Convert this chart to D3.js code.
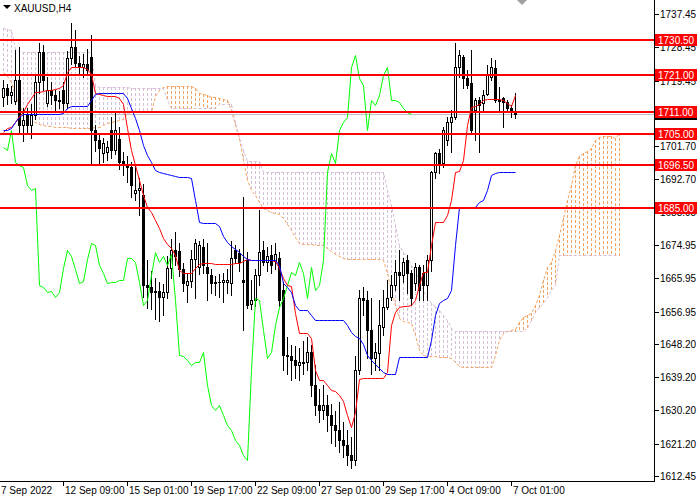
<!DOCTYPE html>
<html><head><meta charset="utf-8">
<script src="https://cdn.jsdelivr.net/npm/d3@7/dist/d3.min.js"></script>
<style>body{margin:0;background:#fff}svg{display:block}text{font-family:"Liberation Sans",Arial,sans-serif}</style>
</head><body><svg id="c" width="700" height="500"></svg>
<script>
const symbol = "XAUUSD,H4";
const open = [1715.0,1717.4,1715.5,1714.0,1719.6,1707.4,1710.5,1707.4,1710.1,1719.0,1727.2,1713.4,1716.9,1715.5,1714.2,1716.9,1713.4,1725.5,1728.5,1724.2,1723.0,1724.0,1725.8,1706.1,1703.4,1699.8,1700.0,1706.0,1700.7,1703.7,1697.8,1696.6,1696.0,1689.0,1689.8,1688.5,1664.1,1663.6,1662.2,1662.5,1660.9,1662.2,1668.7,1673.6,1673.3,1668.5,1664.1,1665.2,1671.2,1669.0,1674.4,1669.0,1666.8,1664.7,1665.0,1664.9,1665.0,1664.7,1673.6,1672.8,1665.5,1670.9,1659.0,1660.0,1666.8,1673.6,1670.4,1672.3,1670.5,1671.4,1662.8,1645.2,1644.9,1643.8,1642.5,1643.3,1643.3,1646.0,1637.1,1631.7,1630.3,1631.7,1629.0,1626.3,1624.9,1622.2,1620.8,1618.1,1616.8,1641.1,1660.6,1660.1,1651.9,1644.4,1645.7,1652.8,1658.2,1660.9,1664.1,1667.6,1666.8,1670.9,1667.3,1664.7,1669.0,1667.3,1664.1,1670.9,1694.7,1699.8,1697.1,1703.4,1708.2,1709.6,1723.1,1725.8,1720.1,1718.7,1711.5,1714.2,1713.3,1715.9,1720.4,1722.8,1714.2,1714.7,1713.6,1712.0,1710.9];
const high = [1719.5,1718.5,1718.0,1727.7,1728.5,1712.0,1712.0,1713.0,1721.0,1729.5,1729.0,1720.5,1719.0,1717.0,1716.5,1719.0,1727.5,1735.0,1733.0,1726.0,1726.5,1728.0,1731.8,1707.4,1705.0,1704.0,1703.0,1709.5,1711.0,1707.0,1700.0,1699.0,1697.5,1697.0,1693.0,1691.5,1671.0,1668.0,1666.0,1665.0,1664.5,1672.0,1676.5,1678.5,1675.5,1670.0,1667.5,1673.5,1676.5,1676.0,1676.5,1675.5,1668.5,1666.5,1667.0,1667.5,1668.5,1676.0,1675.0,1674.0,1687.9,1673.0,1665.5,1668.5,1684.5,1676.0,1674.5,1675.0,1675.5,1673.0,1665.0,1650.0,1648.0,1647.5,1647.0,1649.0,1650.0,1648.0,1642.5,1636.0,1637.0,1634.5,1632.0,1630.0,1632.5,1627.0,1625.0,1623.0,1645.0,1662.8,1663.5,1662.5,1660.5,1648.5,1660.0,1662.8,1665.5,1666.8,1670.9,1673.6,1671.4,1672.2,1668.2,1670.1,1669.5,1669.5,1672.2,1695.0,1700.0,1701.0,1707.0,1709.5,1711.5,1729.6,1727.7,1726.4,1722.3,1727.7,1714.7,1715.0,1716.9,1723.6,1725.5,1725.0,1717.7,1715.0,1714.2,1712.8,1716.0];
const low = [1712.5,1713.0,1713.5,1713.0,1705.2,1703.0,1705.5,1704.0,1709.0,1716.0,1717.0,1712.5,1713.0,1711.0,1712.0,1711.5,1712.0,1724.0,1723.5,1721.0,1720.5,1721.0,1697.0,1700.5,1697.0,1697.5,1698.0,1698.5,1699.5,1695.5,1694.0,1692.0,1688.0,1687.0,1683.0,1661.0,1658.0,1657.5,1655.0,1654.5,1656.0,1660.5,1666.0,1669.5,1666.5,1662.5,1659.5,1663.5,1660.5,1667.0,1667.5,1660.0,1662.0,1661.5,1661.0,1659.5,1662.0,1661.5,1670.0,1668.0,1651.9,1658.0,1657.5,1658.5,1664.0,1669.5,1668.0,1667.5,1668.5,1658.5,1641.0,1640.0,1638.5,1639.0,1638.5,1640.0,1641.0,1634.0,1629.0,1627.0,1628.0,1624.5,1621.5,1620.5,1619.0,1617.5,1615.5,1614.5,1615.5,1640.0,1656.0,1644.5,1640.0,1641.0,1641.0,1650.5,1657.5,1660.0,1662.8,1660.1,1665.0,1661.9,1658.7,1662.8,1660.1,1660.1,1660.1,1668.0,1693.0,1694.5,1696.0,1702.0,1700.0,1709.0,1720.4,1717.5,1717.4,1705.5,1703.3,1700.1,1711.0,1715.5,1719.6,1713.6,1711.5,1706.9,1710.9,1709.6,1709.3];
const close = [1717.4,1715.5,1716.3,1719.6,1707.4,1708.8,1707.4,1710.1,1719.0,1727.2,1719.6,1716.9,1715.5,1714.2,1713.8,1713.4,1725.5,1728.5,1724.2,1723.0,1724.0,1722.3,1706.1,1703.4,1701.2,1702.5,1701.5,1700.7,1706.0,1697.4,1696.6,1696.1,1691.2,1689.8,1690.5,1664.1,1663.6,1662.2,1662.5,1660.9,1662.2,1668.7,1673.6,1672.0,1668.5,1664.7,1665.2,1671.2,1675.5,1675.0,1669.6,1667.3,1664.7,1665.0,1664.9,1665.5,1665.5,1671.4,1671.4,1670.3,1665.0,1658.7,1660.0,1666.8,1673.0,1670.4,1672.0,1669.5,1672.5,1660.1,1645.2,1644.9,1643.8,1642.5,1643.3,1643.3,1646.0,1637.1,1631.7,1630.3,1631.7,1629.0,1626.3,1624.9,1622.2,1620.8,1618.1,1616.8,1641.1,1660.6,1660.1,1651.9,1644.4,1646.0,1653.3,1658.2,1660.6,1664.1,1667.6,1666.8,1670.4,1667.3,1660.6,1669.0,1662.8,1664.1,1670.9,1694.7,1699.8,1697.1,1706.0,1708.2,1709.6,1723.1,1726.4,1720.1,1718.2,1706.1,1714.2,1712.8,1715.5,1720.9,1723.1,1714.2,1714.2,1713.6,1712.0,1710.9,1710.4];
const tenkan = [1705.5,1706.6,1706.9,1708.2,1709.9,1710.9,1713.1,1714.7,1716.4,1716.4,1716.6,1716.9,1716.9,1717.2,1717.4,1718.2,1721.8,1723.1,1723.1,1723.1,1723.1,1722.6,1721.2,1716.1,1715.8,1715.5,1715.3,1715.3,1715.3,1714.7,1713.1,1706.6,1700.7,1696.6,1692.5,1688.5,1685.2,1683.9,1681.7,1679.6,1676.9,1675.2,1674.1,1672.3,1668.2,1667.4,1667.4,1667.4,1668.7,1669.8,1670.1,1670.1,1670.1,1669.8,1669.8,1669.8,1669.8,1669.8,1670.1,1670.1,1670.6,1671.2,1670.9,1670.9,1670.9,1670.9,1670.9,1670.9,1670.6,1668.7,1666.0,1664.1,1663.9,1656.6,1651.1,1651.1,1651.1,1649.8,1641.1,1638.4,1638.4,1637.1,1635.7,1635.5,1634.4,1632.7,1628.9,1625.7,1629.8,1638.7,1639.0,1639.0,1639.0,1639.0,1639.0,1639.0,1640.6,1653.3,1656.8,1658.2,1658.5,1658.5,1658.7,1660.1,1664.1,1667.7,1667.7,1675.0,1681.2,1681.2,1681.2,1683.1,1687.1,1694.7,1695.0,1697.9,1707.4,1712.3,1712.6,1713.1,1714.2,1714.5,1714.5,1714.5,1714.5,1714.2,1713.4,1712.6,1715.5];
const kijun = [1706.1,1706.1,1706.6,1708.2,1709.6,1710.4,1710.4,1710.4,1710.4,1710.4,1710.4,1710.4,1710.4,1710.4,1710.4,1710.7,1712.0,1712.6,1712.6,1712.6,1712.6,1712.6,1714.2,1715.8,1716.1,1716.1,1716.1,1716.1,1716.1,1716.1,1716.1,1714.7,1712.0,1709.3,1706.1,1702.0,1699.3,1697.4,1695.2,1694.7,1694.4,1694.2,1693.9,1693.6,1693.4,1693.4,1693.4,1693.1,1687.1,1681.2,1680.9,1680.9,1680.9,1680.9,1680.1,1677.4,1675.8,1674.7,1673.9,1673.1,1672.0,1671.2,1670.9,1670.9,1670.9,1670.9,1670.9,1670.9,1670.9,1669.5,1664.7,1663.6,1662.2,1658.7,1657.4,1657.4,1657.4,1656.0,1654.7,1654.7,1654.7,1654.7,1654.7,1654.7,1654.7,1654.7,1653.3,1651.4,1650.3,1649.8,1648.2,1645.2,1643.8,1642.8,1641.7,1640.6,1640.0,1640.0,1640.0,1644.7,1644.7,1644.7,1644.7,1644.7,1644.7,1644.7,1644.7,1649.2,1656.0,1659.3,1660.1,1660.6,1662.8,1675.0,1685.2,1685.2,1685.2,1685.2,1685.2,1686.6,1687.1,1689.8,1693.9,1694.4,1694.7,1694.7,1694.7,1694.7,1694.7];
const spanA = [1721.8,1720.7,1719.1,1715.5,1712.8,1710.7,1709.6,1708.8,1708.2,1707.7,1707.4,1707.2,1707.2,1706.9,1706.9,1706.9,1706.9,1706.6,1706.6,1706.6,1706.6,1706.6,1706.6,1706.9,1706.9,1707.4,1708.0,1708.2,1708.5,1708.8,1709.0,1710.7,1710.9,1710.9,1710.9,1710.9,1710.9,1710.9,1715.3,1716.9,1717.7,1718.0,1718.0,1718.0,1718.0,1718.0,1718.0,1718.0,1717.4,1716.1,1715.8,1715.5,1715.0,1715.0,1714.7,1714.5,1714.2,1711.5,1707.4,1703.9,1698.0,1692.5,1689.8,1688.5,1686.6,1685.0,1684.4,1683.9,1683.6,1683.3,1682.3,1680.6,1679.0,1677.1,1675.5,1675.2,1675.2,1675.2,1675.0,1675.0,1675.0,1674.1,1673.3,1672.5,1672.0,1671.4,1671.2,1671.2,1671.2,1671.2,1671.2,1671.2,1671.2,1671.2,1671.2,1670.9,1667.4,1662.8,1658.7,1655.2,1654.4,1654.1,1653.9,1650.6,1646.5,1645.2,1644.9,1644.9,1644.9,1644.7,1644.7,1644.7,1644.4,1643.3,1642.2,1641.9,1641.9,1641.9,1641.9,1641.9,1641.9,1641.9,1641.9,1645.2,1649.2,1651.1,1651.7,1652.0,1652.2,1654.1,1655.5,1656.0,1656.6,1658.7,1661.4,1665.5,1669.0,1670.4,1673.6,1677.7,1682.3,1687.1,1691.2,1696.6,1699.0,1699.8,1700.4,1701.2,1703.4,1704.2,1704.4,1704.4,1704.4,1703.9,1705.3];
const spanB = [1733.7,1733.4,1733.1,1728.3,1727.2,1727.2,1727.2,1727.2,1727.2,1727.2,1727.2,1727.2,1727.2,1727.2,1727.2,1727.2,1727.2,1727.2,1727.2,1727.2,1727.2,1727.2,1727.2,1718.2,1717.7,1717.7,1717.7,1717.7,1717.7,1717.7,1717.7,1717.7,1717.4,1717.4,1717.4,1717.4,1717.4,1717.4,1717.4,1717.4,1717.4,1714.2,1712.0,1712.0,1712.0,1712.0,1712.0,1712.0,1712.0,1712.0,1712.0,1712.0,1712.0,1712.0,1713.1,1713.1,1713.1,1713.1,1708.2,1703.9,1700.7,1697.7,1697.7,1697.7,1697.7,1694.7,1694.7,1694.7,1694.7,1694.7,1694.7,1694.7,1694.7,1694.7,1694.7,1694.7,1694.7,1694.7,1694.7,1694.7,1694.7,1694.7,1694.7,1694.7,1694.7,1694.7,1694.7,1694.7,1694.7,1694.7,1694.7,1694.7,1694.7,1694.7,1694.7,1694.7,1689.8,1685.8,1680.4,1675.0,1673.1,1671.4,1669.5,1667.7,1665.5,1662.8,1660.6,1659.3,1658.5,1657.4,1656.0,1654.7,1652.5,1651.7,1651.7,1651.7,1651.7,1651.7,1651.7,1651.7,1651.7,1651.7,1651.7,1651.7,1651.7,1651.7,1651.7,1651.7,1651.7,1651.7,1651.7,1652.5,1654.7,1656.8,1658.2,1659.3,1660.9,1662.8,1664.1,1672.2,1672.2,1672.2,1672.2,1672.2,1672.2,1672.2,1672.2,1672.2,1672.2,1672.2,1672.2,1672.2,1672.2,1672.2,1672.2];
const priceTicks = ["1737.45","1728.45","1719.45","1710.45","1701.70","1692.70","1683.95","1674.95","1665.95","1656.95","1648.20","1639.20","1630.20","1621.20","1612.45"];
const hiddenTicks = ["1710.45"];
const timeLabels = ["7 Sep 2022","12 Sep 09:00","15 Sep 01:00","19 Sep 17:00","22 Sep 09:00","27 Sep 01:00","29 Sep 17:00","4 Oct 09:00","7 Oct 01:00"];
const timeBars = [-1,15,31,47,63,79,95,111,127];
const levels = [1730.50,1721.00,1711.00,1705.00,1696.50,1685.00];
const bidPrice = 1710.40;
const chikouShift = 26;

const svg = d3.select("#c");
const plotR = 654, plotB = 481;
const x = d3.scaleLinear().domain([0, 162.75]).range([3, 654]);
const y = d3.scaleLinear().domain([1612.45, 1737.45]).range([476, 14]);
const px = i => Math.round(x(i));
const py = v => Math.round(y(v));

svg.append("defs").append("clipPath").attr("id","pc").append("rect").attr("x",0).attr("y",0).attr("width",plotR).attr("height",plotB);
const plot = svg.append("g").attr("clip-path","url(#pc)");

// cloud: dotted vertical strokes per bar, drawn as crisp 1x3 pixel dashes
let pathUp = "", pathDn = "";
spanA.forEach((a,k)=>{
  const b = spanB[k];
  const t = py(Math.max(a,b)), bt = py(Math.min(a,b)), cx = px(k);
  let s = "";
  for (let yy = t; yy <= bt; yy += 5) s += `M${cx},${yy}h1v${Math.min(3, bt-yy+1)}h-1z`;
  if (a >= b) pathUp += s; else pathDn += s;
});
plot.append("path").attr("d",pathDn).attr("fill","#D8BFD8").attr("shape-rendering","crispEdges");
plot.append("path").attr("d",pathUp).attr("fill","#F4A460").attr("shape-rendering","crispEdges");
const lineGen = arr => d3.line().x((d,i)=>px(i)+0.5).y(d=>py(d)+0.5)(arr);
plot.append("path").attr("d",lineGen(spanA)).attr("fill","none").attr("stroke","#F4A460").attr("stroke-dasharray","3,2");
plot.append("path").attr("d",lineGen(spanB)).attr("fill","none").attr("stroke","#D8BFD8").attr("stroke-dasharray","3,2");

// bid line
plot.append("rect").attr("x",0).attr("y",py(bidPrice)).attr("width",plotR).attr("height",1).attr("fill","#C0C0C0");

// candles
const cg = plot.append("g").attr("shape-rendering","crispEdges");
close.forEach((c,i)=>{
  const o = open[i], h = high[i], l = low[i], cx = px(i);
  cg.append("rect").attr("x",cx).attr("y",py(h)).attr("width",1).attr("height",py(l)-py(h)+1).attr("fill","#000");
  const top = py(Math.max(o,c)), bot = py(Math.min(o,c));
  if (c >= o) {
    cg.append("rect").attr("x",cx-0.5).attr("y",top+0.5).attr("width",2).attr("height",Math.max(bot-top,1)).attr("fill","#fff").attr("stroke","#000");
  } else {
    cg.append("rect").attr("x",cx-1).attr("y",top).attr("width",3).attr("height",Math.max(bot-top+1,1)).attr("fill","#000");
  }
});

// ichimoku lines
const chikou = close.slice(chikouShift);
plot.append("path").attr("d",lineGen(chikou)).attr("fill","none").attr("stroke","#00FF00");
plot.append("path").attr("d",lineGen(tenkan)).attr("fill","none").attr("stroke","#FF0000");
plot.append("path").attr("d",lineGen(kijun)).attr("fill","none").attr("stroke","#0000FF");

// horizontal levels
levels.forEach(v=>{
  plot.append("rect").attr("x",0).attr("y",py(v)-1).attr("width",plotR).attr("height",2).attr("fill","#FF0000");
});

// axes
svg.append("rect").attr("x",plotR).attr("y",0).attr("width",1).attr("height",plotB).attr("fill","#000");
svg.append("rect").attr("x",0).attr("y",plotB).attr("width",plotR+1).attr("height",1).attr("fill","#000");
const ax = svg.append("g");
priceTicks.forEach(t=>{
  const yy = py(+t);
  ax.append("rect").attr("x",plotR+1).attr("y",yy).attr("width",4).attr("height",1).attr("fill","#000");
  if (!hiddenTicks.includes(t))
    ax.append("text").attr("x",660).attr("y",yy+4).attr("font-size",10).attr("fill","#000").text(t);
});
timeLabels.forEach((t,j)=>{
  const b = timeBars[j];
  const xx = b < 0 ? 1 : px(b);
  if (b >= 0) ax.append("rect").attr("x",xx).attr("y",plotB+1).attr("width",1).attr("height",4).attr("fill","#000");
  ax.append("text").attr("x",b<0?1:xx+2).attr("y",494).attr("font-size",10).attr("fill","#000").text(t);
});
// bid marker (covered by the 1711.00 label, as in the terminal)
ax.append("rect").attr("x",655).attr("y",py(bidPrice)-6).attr("width",42).attr("height",12).attr("fill","#000");
levels.forEach(v=>{
  ax.append("rect").attr("x",655).attr("y",py(v)-6).attr("width",42).attr("height",12).attr("fill","#FF0000");
  ax.append("text").attr("x",658).attr("y",py(v)+4).attr("font-size",10).attr("fill","#fff").text(v.toFixed(2));
});
// title
svg.append("path").attr("d","M3,5 L11,5 L7,9 Z").attr("fill","#000");
svg.append("text").attr("x",14).attr("y",12).attr("font-size",10).attr("fill","#000").text(symbol);
// chart shift marker
svg.append("path").attr("d",`M${px(129)-2},0 L${px(129)+8},0 L${px(129)+3},5 Z`).attr("fill","#A0A0A0");
</script></body></html>
